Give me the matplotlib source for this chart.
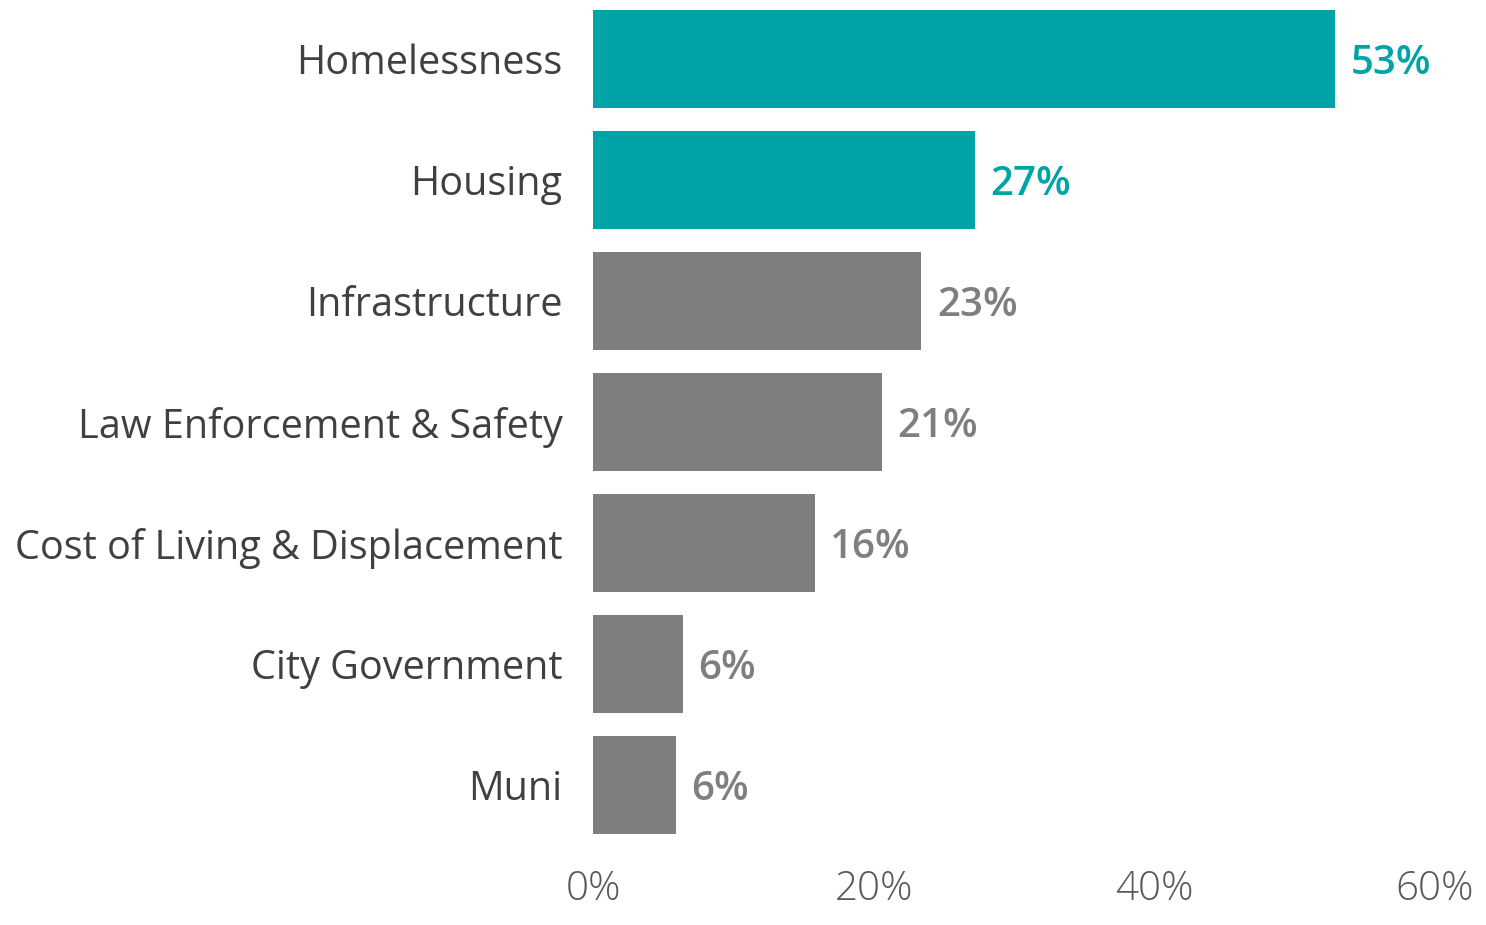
import matplotlib.pyplot as plt
from matplotlib.ticker import FuncFormatter

plt.rcParams['font.family'] = ['Open Sans', 'DejaVu Sans']

categories = ['Homelessness', 'Housing', 'Infrastructure',
              'Law Enforcement & Safety', 'Cost of Living & Displacement',
              'City Government', 'Muni']
shares = [52.9, 27.2, 23.4, 20.6, 15.8, 6.4, 5.9]
highlighted = ['Homelessness', 'Housing']

teal = '#00A4A6'
grey = '#7F7F7F'

fig = plt.figure(figsize=(14.86, 9.25), dpi=100)
ax = fig.add_axes([593 / 1486, 75 / 925, (1435 - 593) / 1486, 850 / 925])

colors = [teal if c in highlighted else grey for c in categories]
ypos = list(range(len(categories)))
ax.barh(ypos, shares, height=0.81, color=colors)

# value labels just past the bar ends
for y, v, c in zip(ypos, shares, colors):
    ax.text(v + 1.1, y + 0.04, f'{v:.0f}%', va='center', ha='left',
            fontsize=29, fontweight='semibold', color=c)

ax.set_yticks(ypos)
ax.set_yticklabels(categories, fontsize=28.5, color='#404040')
ax.set_ylim(6.537, -0.488)
ax.set_xlim(0, 60)
ax.set_xticks([0, 20, 40, 60])
ax.xaxis.set_major_formatter(FuncFormatter(lambda x, _: f'{x:.0f}%'))
for lbl in ax.get_xticklabels():
    lbl.set_fontsize(29)
    lbl.set_color('#595959')
    lbl.set_fontweight('light')

ax.tick_params(axis='y', length=0, pad=22)
ax.tick_params(axis='x', length=0, pad=14)
for s in ax.spines.values():
    s.set_visible(False)

fig.savefig('out.png', dpi=100)
